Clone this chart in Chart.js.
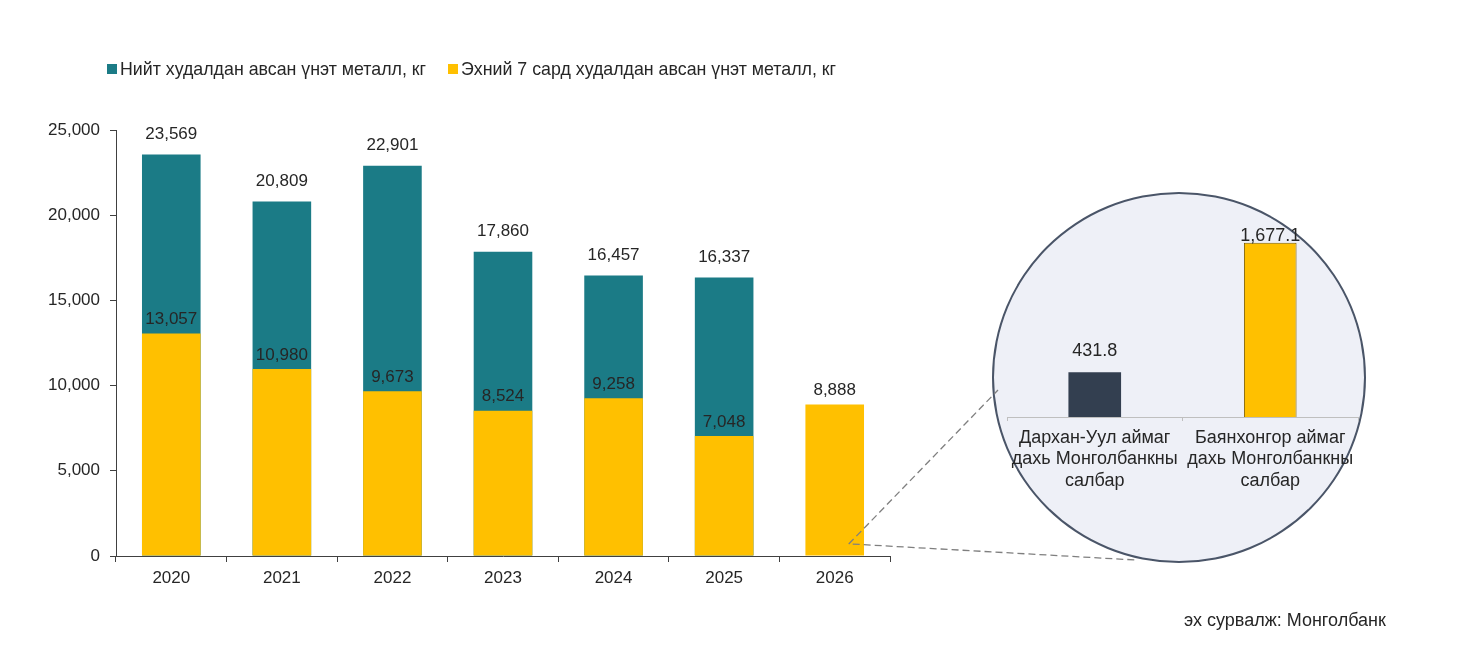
<!DOCTYPE html>
<html>
<head>
<meta charset="utf-8">
<script src="https://cdn.jsdelivr.net/npm/chart.js@4/dist/chart.umd.min.js"></script>
<style>
  body { margin: 0; background: #fff; font-family: "Liberation Sans", Arial, sans-serif; }
  #wrap { position: relative; width: 1471px; height: 665px; overflow: hidden; }
  #main { position: absolute; left: 0; top: 0; }
  #legend { position: absolute; left: 107px; top: 59px; font-size: 17.8px; color: #262626; white-space: nowrap; }
  #legend span.box { display: inline-block; width: 10px; height: 10px; margin-right: 3px; vertical-align: 1px; }
  #legend span.item { margin-right: 22px; }
  #circle { position: absolute; left: 992px; top: 192px; width: 374px; height: 371px; border-radius: 50%;
            background: #eef0f7; border: 2px solid #4a5568; box-sizing: border-box; }
  #inset { position: absolute; left: 980px; top: 180px; }
  #source { position: absolute; left: 1184px; top: 610px; font-size: 18px; color: #262626; }
</style>
</head>
<body>
<div id="wrap">
  <div id="circle"></div>
  <canvas id="main" width="1471" height="665"></canvas>
  <canvas id="inset" width="400" height="340"></canvas>
  <div id="legend"></div>
  <div id="source">эх сурвалж: Монголбанк</div>
</div>
<script>
var years = ['2020', '2021', '2022', '2023', '2024', '2025', '2026'];
var totalSold = [23569, 20809, 22901, 17860, 16457, 16337, null];
var first7Months = [13057, 10980, 9673, 8524, 9258, 7048, 8888];
var yTicks = [0, 5000, 10000, 15000, 20000, 25000];

var branchLabels = [
    ['Дархан-Уул аймаг', 'дахь Монголбанкны', 'салбар'],
    ['Баянхонгор аймаг', 'дахь Монголбанкны', 'салбар']
];
var branchValues = [431.8, 1677.1];

var tealColor = '#1b7b86';
var yellowColor = '#ffc000';
var textColor = '#262626';

Chart.defaults.font.family = '"Liberation Sans", Arial, sans-serif';
Chart.defaults.color = textColor;

// legend
var legendItems = [
    { label: 'Нийт худалдан авсан үнэт металл, кг', color: tealColor },
    { label: 'Эхний 7 сард худалдан авсан үнэт металл, кг', color: yellowColor }
];
document.getElementById('legend').innerHTML = legendItems.map(function (it) {
    return '<span class="item"><span class="box" style="background:' + it.color + '"></span>' + it.label + '</span>';
}).join('');

// value labels above bars
var valueLabels = {
    id: 'valueLabels',
    afterDatasetsDraw: function (chart, args, opts) {
        var ctx = chart.ctx;
        ctx.save();
        ctx.font = (opts.size || 15) + 'px "Liberation Sans", Arial, sans-serif';
        ctx.fillStyle = textColor;
        ctx.textAlign = 'center';
        ctx.textBaseline = 'middle';
        chart.data.datasets.forEach(function (ds, di) {
            var meta = chart.getDatasetMeta(di);
            meta.data.forEach(function (bar, i) {
                var v = ds.data[i];
                if (v === null || v === undefined) return;
                var off = (ds.labelOffset !== undefined) ? ds.labelOffset : 20;
                var y = bar.y - off;
                if (opts.minY !== undefined) y = Math.max(y, chart.chartArea.top + opts.minY);
                var txt = v.toLocaleString('en-US', { minimumFractionDigits: ds.decimals || 0, maximumFractionDigits: ds.decimals || 0 });
                ctx.fillText(txt, bar.x, y);
            });
        });
        ctx.restore();
    }
};

// dashed zoom lines from 2026 bar to circle
var zoomLines = {
    id: 'zoomLines',
    afterDraw: function (chart) {
        var ctx = chart.ctx;
        var x0 = chart.scales.x.getPixelForValue(6) + 14;
        var y0 = chart.scales.y.getPixelForValue(700);
        ctx.save();
        ctx.strokeStyle = '#7f7f7f';
        ctx.lineWidth = 1.3;
        ctx.setLineDash([7, 4]);
        ctx.beginPath();
        ctx.moveTo(x0, y0);
        ctx.lineTo(998, 390);
        ctx.moveTo(x0 + 4, y0);
        ctx.lineTo(1136, 560);
        ctx.stroke();
        ctx.restore();
    }
};

new Chart(document.getElementById('main'), {
    type: 'bar',
    data: {
        labels: years,
        datasets: [
            {
                label: legendItems[0].label,
                data: totalSold,
                backgroundColor: tealColor,
                order: 1,
                labelOffset: 20
            },
            {
                label: legendItems[1].label,
                data: first7Months,
                backgroundColor: yellowColor,
                order: 0,
                labelOffset: 14
            }
        ]
    },
    options: {
        responsive: false,
        animation: false,
        layout: { padding: { top: 130, right: 581, left: 0, bottom: 0 } },
        datasets: { bar: { grouped: false, categoryPercentage: 1, barPercentage: 0.53 } },
        plugins: {
            legend: { display: false },
            tooltip: { enabled: false },
            valueLabels: { size: 17 }
        },
        scales: {
            x: {
                offset: true,
                grid: { drawOnChartArea: false, offset: true, tickLength: 6, color: '#404040' },
                border: { color: '#404040', width: 1 },
                ticks: { font: { size: 17 }, color: textColor, padding: 6 },
                afterFit: function (s) { s.height = 109; }
            },
            y: {
                min: 0,
                max: 25000,
                afterBuildTicks: function (s) { s.ticks = yTicks.map(function (v) { return { value: v }; }); },
                grid: { drawOnChartArea: false, tickLength: 6, color: '#404040' },
                border: { color: '#404040', width: 1 },
                ticks: {
                    font: { size: 17 }, color: textColor, padding: 10,
                    callback: function (v) { return v.toLocaleString('en-US'); }
                },
                afterFit: function (s) { s.width = 116; }
            }
        }
    },
    plugins: [valueLabels, zoomLines]
});

new Chart(document.getElementById('inset'), {
    type: 'bar',
    data: {
        labels: branchLabels,
        datasets: [{
            data: branchValues,
            backgroundColor: ['#333f50', yellowColor],
            borderColor: ['#333f50', '#7f6000'],
            borderWidth: [0, 1],
            labelOffset: 21,
            decimals: 1
        }]
    },
    options: {
        responsive: false,
        animation: false,
        layout: { padding: { top: 50, left: 27, right: 22, bottom: 0 } },
        datasets: { bar: { categoryPercentage: 1, barPercentage: 0.3 } },
        plugins: {
            legend: { display: false },
            tooltip: { enabled: false },
            valueLabels: { size: 18, minY: 6 }
        },
        scales: {
            x: {
                grid: { drawOnChartArea: false, tickLength: 4, color: '#bfbfbf' },
                border: { color: '#bfbfbf', width: 1 },
                ticks: { font: { size: 18 }, color: textColor, padding: 6, maxRotation: 0, autoSkip: false },
                afterFit: function (s) { s.height = 103; }
            },
            y: { display: false, min: 0, max: 1800 }
        }
    },
    plugins: [valueLabels]
});
</script>
</body>
</html>
